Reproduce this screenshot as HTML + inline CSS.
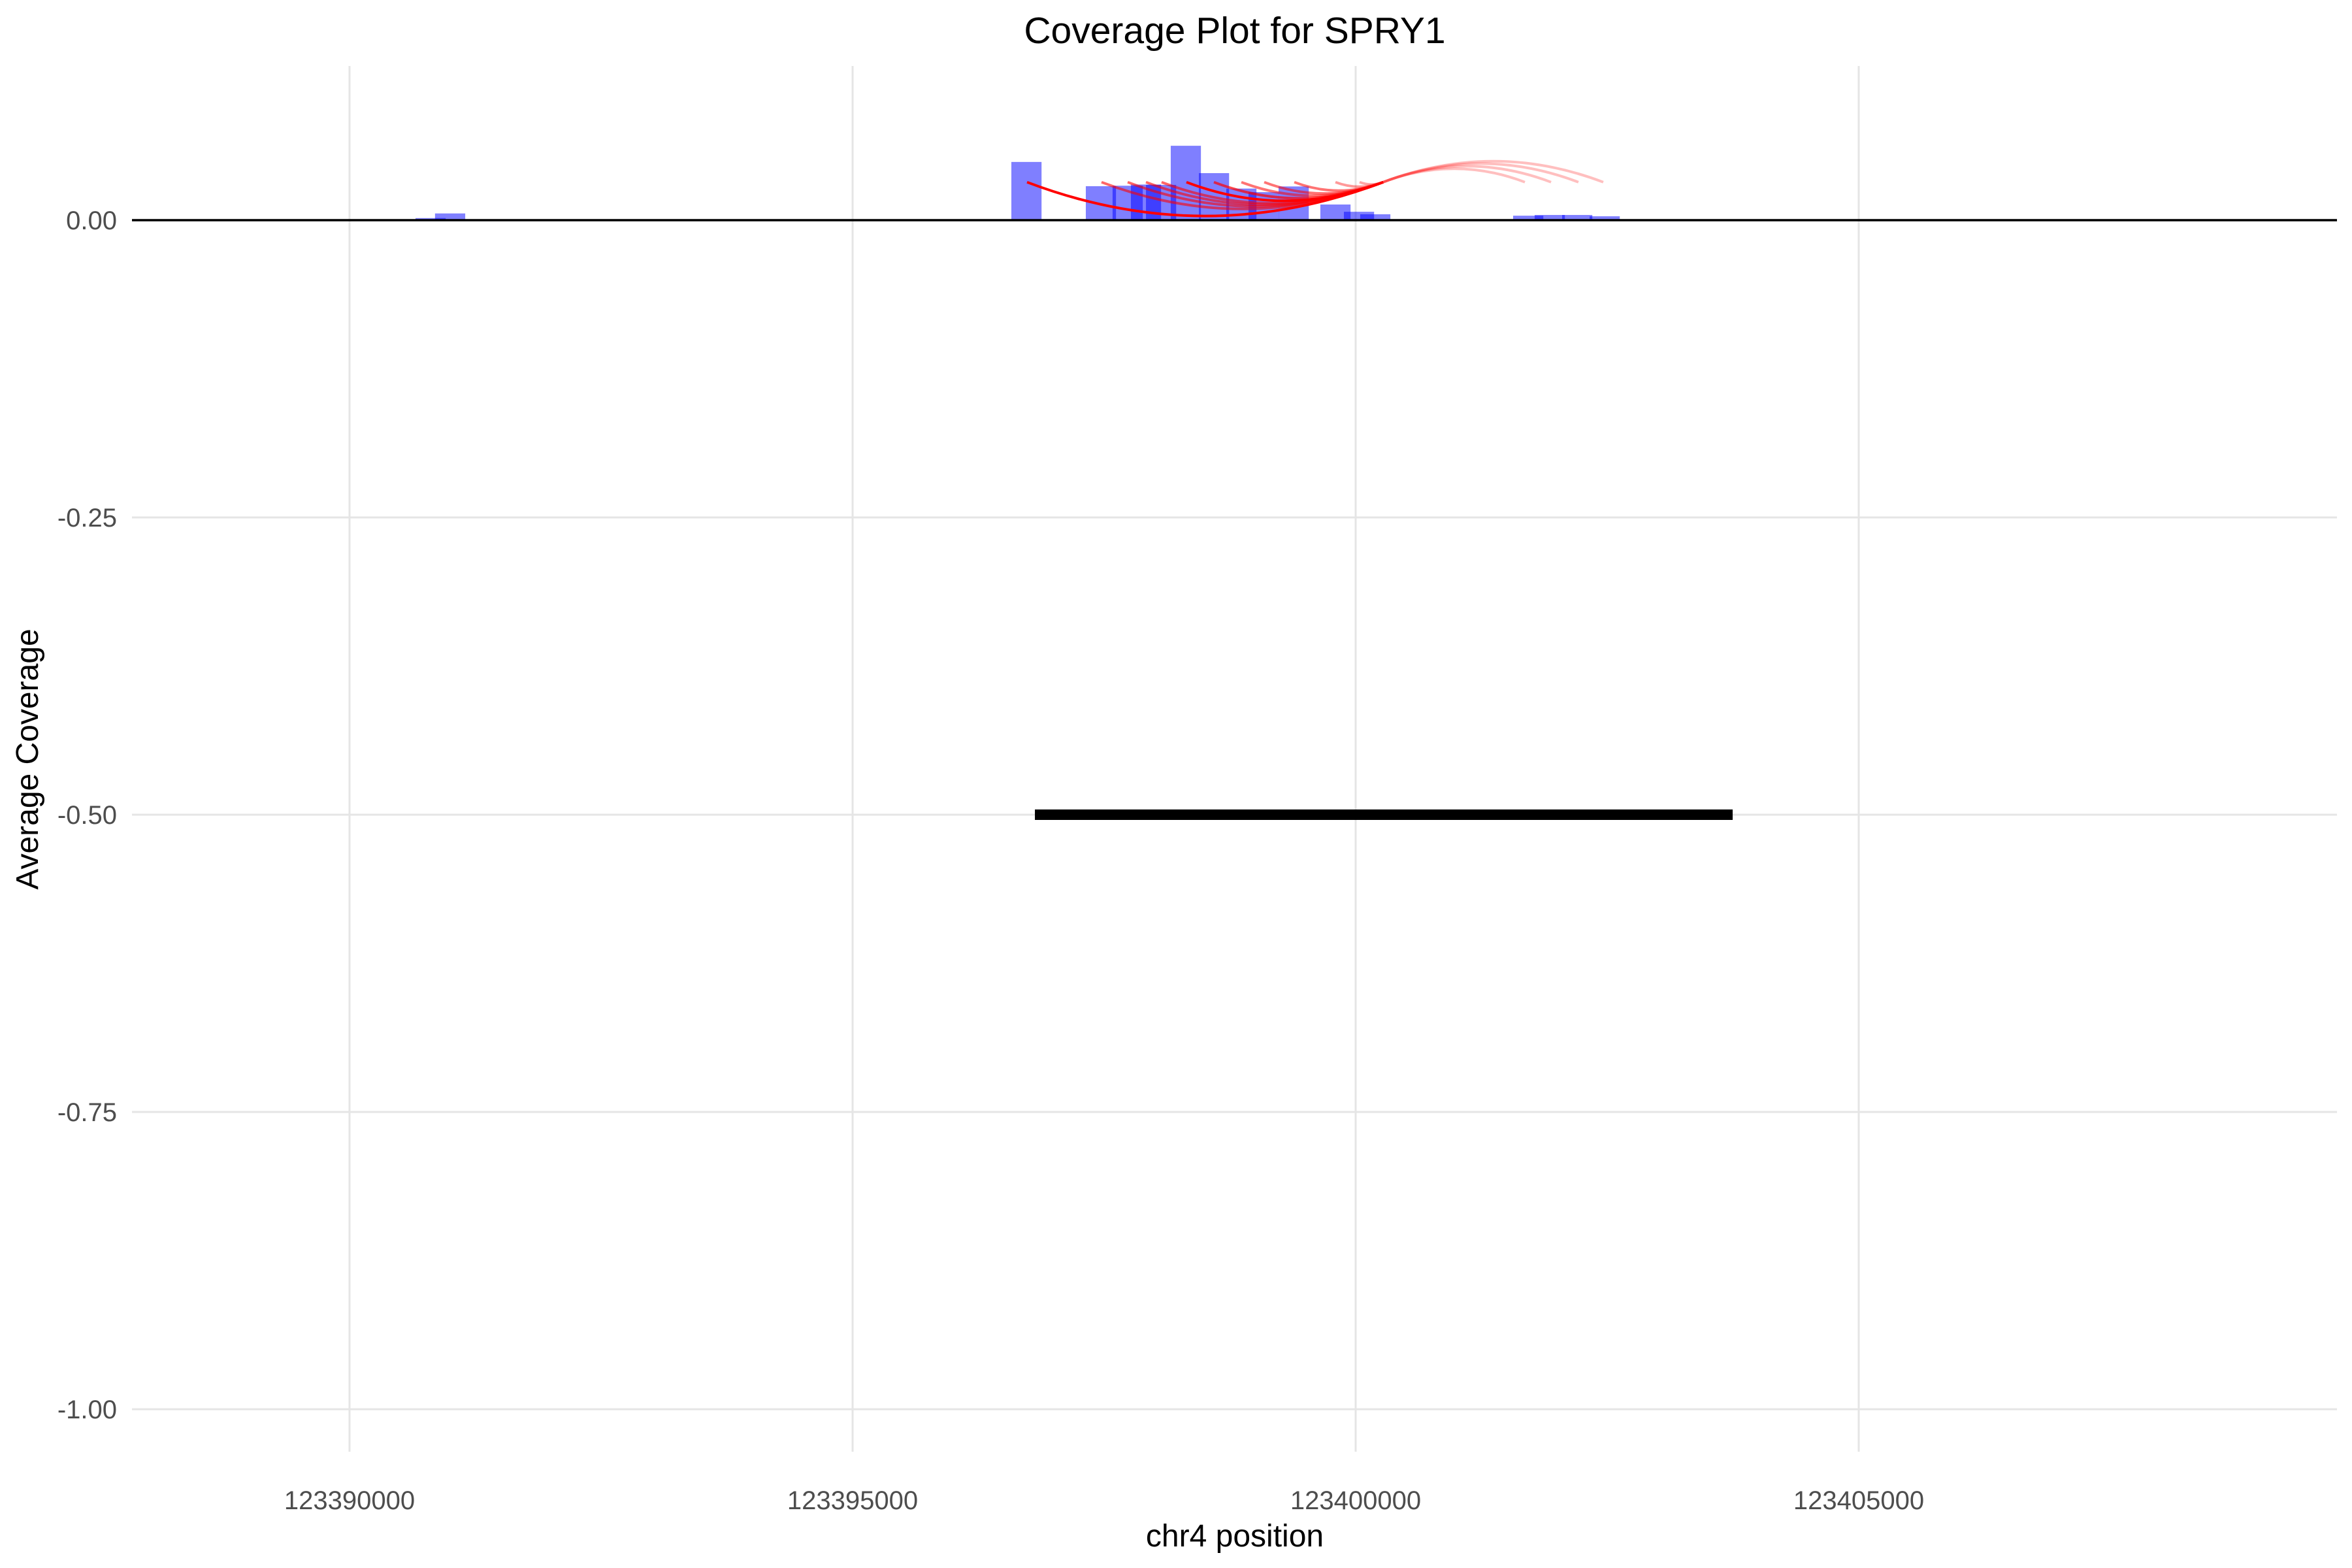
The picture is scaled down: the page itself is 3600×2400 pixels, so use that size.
<!DOCTYPE html>
<html><head><meta charset="utf-8"><style>
html,body{margin:0;padding:0;background:#fff;}
svg{display:block;font-family:"Liberation Sans",Arial,sans-serif;}
</style></head><body>
<svg id="chart" width="3600" height="2400" viewBox="0 0 3600 2400" xmlns="http://www.w3.org/2000/svg">
<text x="1890" y="66" font-size="57" text-anchor="middle" fill="#000">Coverage Plot for SPRY1</text>
<text x="1890" y="2367" font-size="48" text-anchor="middle" fill="#000">chr4 position</text>
<text transform="translate(58,1162) rotate(-90)" font-size="48" text-anchor="middle" fill="#000">Average Coverage</text>
<g id="grid"></g>
<g id="bars"></g>
<g id="zero"></g>
<g id="arcs"></g>
<g id="gene"></g>
<g id="ticks"></g>
</svg>
<script>
const xTicks = [123390000, 123395000, 123400000, 123405000];
const yTicks = [0, -0.25, -0.5, -0.75, -1.0];
const yTickLabels = ["0.00", "-0.25", "-0.50", "-0.75", "-1.00"];
const barStarts = [123390656, 123390850, 123396578, 123397318, 123397584, 123397766, 123397916, 123398162, 123398442, 123398714, 123398935, 123399234, 123399649, 123399883, 123400045, 123401565, 123401779, 123402052, 123402325, 123406838];
const barValues = [0.0018, 0.0057, 0.049, 0.0286, 0.029, 0.030, 0.0297, 0.0626, 0.0396, 0.0266, 0.0236, 0.0284, 0.0132, 0.0071, 0.005, 0.0038, 0.0044, 0.0044, 0.0033, 0.0007];
const barWidth = 300;
const arcFrom = [123396734, 123397474, 123397734, 123397916, 123398071, 123398318, 123398591, 123398864, 123399091, 123399390, 123399799, 123400039, 123401682, 123401942, 123402214, 123402461];
const arcTo = [123400273, 123400273, 123400273, 123400273, 123400273, 123400273, 123400273, 123400273, 123400273, 123400273, 123400273, 123400273, 123400273, 123400273, 123400273, 123400273];
const arcAlpha = [1, 0.6, 0.6, 0.6, 0.6, 1, 0.7, 0.55, 0.55, 0.55, 0.4, 0.35, 0.25, 0.25, 0.25, 0.25];
const arcY = 0.032;
const geneStart = 123396812, geneEnd = 123403747, geneY = -0.5;

const NS = "http://www.w3.org/2000/svg";
const L = 202, R = 3577, T = 101, B = 2222;
const xMin = 123387838, xMax = 123409753, yMin = -1.0357, yMax = 0.1297;
const X = v => L + (v - xMin) / (xMax - xMin) * (R - L);
const Y = v => T + (yMax - v) / (yMax - yMin) * (B - T);
function mk(tag, attrs, parent) { const e = document.createElementNS(NS, tag); for (const k in attrs) e.setAttribute(k, attrs[k]); parent.appendChild(e); return e; }

const grid = document.getElementById('grid');
xTicks.forEach(t => {
  const l = mk('line', {x1: X(t), x2: X(t), y1: T, y2: B, stroke: '#e5e5e5', 'stroke-width': 3}, grid);
  
  
});
yTicks.forEach(t => {
  const l = mk('line', {x1: L, x2: R, y1: Y(t), y2: Y(t), stroke: '#e5e5e5', 'stroke-width': 3}, grid);
  
  
});

const bars = document.getElementById('bars');
barStarts.forEach((s, i) => {
  const x0 = X(s), x1 = X(s + barWidth), y = Y(barValues[i]), y0 = Y(0);
  const r = mk('rect', {x: x0, y: y, width: x1 - x0, height: y0 - y, fill: 'rgba(0,0,255,0.5)'}, bars);
  
  
});

const zero = document.getElementById('zero');
const zl = mk('line', {x1: L, x2: R, y1: Y(0), y2: Y(0), stroke: '#000', 'stroke-width': 3.5}, zero);



const arcs = document.getElementById('arcs');
arcFrom.forEach((f, i) => {
  const x0 = X(f), x1 = X(arcTo[i]), y = Y(arcY);
  const dx = x1 - x0;
  const cx = (x0 + x1) / 2, cy = y + 0.19 * dx;
  const p = mk('path', {d: `M${x0},${y} Q${cx},${cy} ${x1},${y}`, fill: 'none', stroke: 'red', 'stroke-opacity': arcAlpha[i], 'stroke-width': 4}, arcs);
  
  
});

const gene = document.getElementById('gene');
const gl = mk('line', {x1: X(geneStart), x2: X(geneEnd), y1: Y(geneY), y2: Y(geneY), stroke: '#000', 'stroke-width': 16}, gene);



const ticks = document.getElementById('ticks');
xTicks.forEach(t => {
  const tx = mk('text', {x: X(t), y: 2310, 'font-size': 40, 'text-anchor': 'middle', fill: '#4d4d4d'}, ticks);
  tx.textContent = String(t);
  
  
});
yTicks.forEach((t, i) => {
  const tx = mk('text', {x: 179, y: Y(t) + 14, 'font-size': 40, 'text-anchor': 'end', fill: '#4d4d4d'}, ticks);
  tx.textContent = yTickLabels[i];
  
  
});
</script>
</body></html>
